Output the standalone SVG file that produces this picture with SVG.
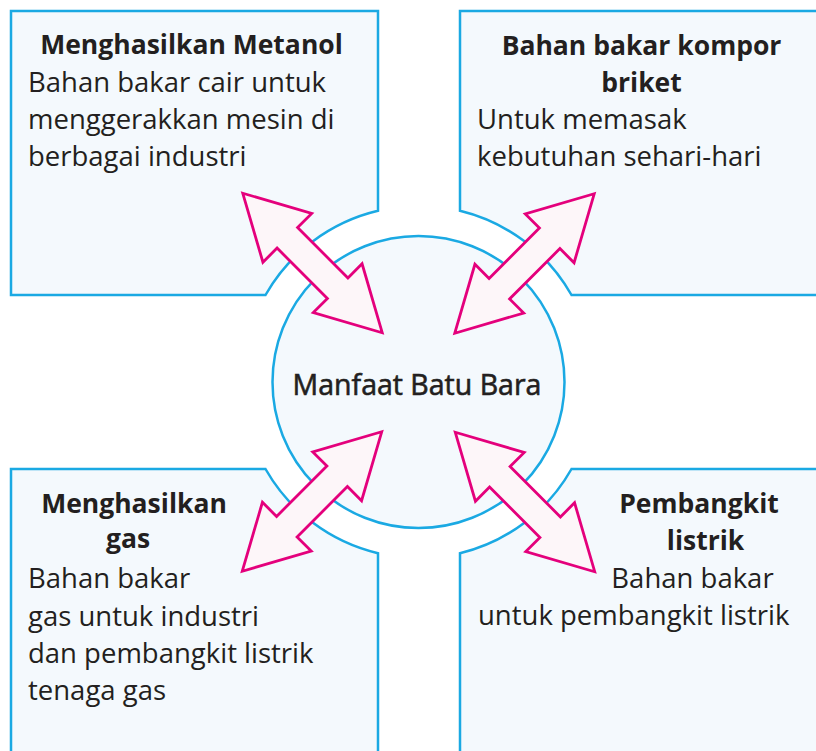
<svg xmlns="http://www.w3.org/2000/svg" width="816" height="751" viewBox="0 0 816 751">
<style>
.box{fill:#f4f9fd;stroke:#1aa9e3;stroke-width:2.5}
.arr{fill:#fdf6f9;stroke:#e4007c;stroke-width:2.8;stroke-linejoin:miter}
text{font-family:"Open Sans","Noto Sans","Liberation Sans",sans-serif;fill:#231f20}
.t{font-size:26.5px;font-weight:700}
.b{font-size:27.5px}
.c{font-size:28.5px;stroke:#231f20;stroke-width:0.6}
</style>
<defs>
<polygon id="dbl" points="-98.6,0 -35.6,-34.5 -35.6,-14.5 35.6,-14.5 35.6,-34.5 98.6,0 35.6,34.5 35.6,14.5 -35.6,14.5 -35.6,34.5"/>
</defs>
<rect width="816" height="751" fill="#ffffff"/>
<g id="node-metanol">
<path class="box" d="M11,11 H378 V210.7 A176,176 0 0 0 265.5,295 H11 Z"/>
<text class="t" x="191.5" y="54" text-anchor="middle">Menghasilkan Metanol</text>
<text class="b" x="28" y="92">Bahan bakar cair untuk</text>
<text class="b" x="28" y="129">menggerakkan mesin di</text>
<text class="b" x="28" y="166">berbagai industri</text>
</g>
<g id="node-briket">
<path class="box" d="M460,11 H830 V295 H571.5 A176,176 0 0 0 460,210.7 Z"/>
<text class="t" x="641.5" y="55" text-anchor="middle">Bahan bakar kompor</text>
<text class="t" x="641.5" y="92" text-anchor="middle">briket</text>
<text class="b" x="477" y="129">Untuk memasak</text>
<text class="b" x="477" y="166">kebutuhan sehari-hari</text>
</g>
<g id="node-gas">
<path class="box" d="M11,469 H265.5 A176,176 0 0 0 378,553.3 V760 H11 Z"/>
<text class="t" x="134" y="513" text-anchor="middle">Menghasilkan</text>
<text class="t" x="128" y="548" text-anchor="middle">gas</text>
<text class="b" x="28" y="588">Bahan bakar</text>
<text class="b" x="28" y="626">gas untuk industri</text>
<text class="b" x="28" y="663">dan pembangkit listrik</text>
<text class="b" x="28" y="700">tenaga gas</text>
</g>
<g id="node-listrik">
<path class="box" d="M571.5,469 H830 V760 H460 V553.3 A176,176 0 0 0 571.5,469 Z"/>
<text class="t" x="699" y="513" text-anchor="middle">Pembangkit</text>
<text class="t" x="705.5" y="550" text-anchor="middle">listrik</text>
<text class="b" x="692.5" y="588" text-anchor="middle">Bahan bakar</text>
<text class="b" x="478" y="625">untuk pembangkit listrik</text>
</g>
<g id="node-center">
<circle class="box" cx="418.5" cy="382" r="146"/>
<text class="c" x="417" y="395" text-anchor="middle">Manfaat Batu Bara</text>
</g>
<g id="connectors">
<use href="#dbl" class="arr" transform="translate(312.5,263) rotate(45)"/>
<use href="#dbl" class="arr" transform="translate(524.5,263.5) rotate(-45)"/>
<use href="#dbl" class="arr" transform="translate(312,501.5) rotate(-45)"/>
<use href="#dbl" class="arr" transform="translate(525,502) rotate(45)"/>
</g>
</svg>
